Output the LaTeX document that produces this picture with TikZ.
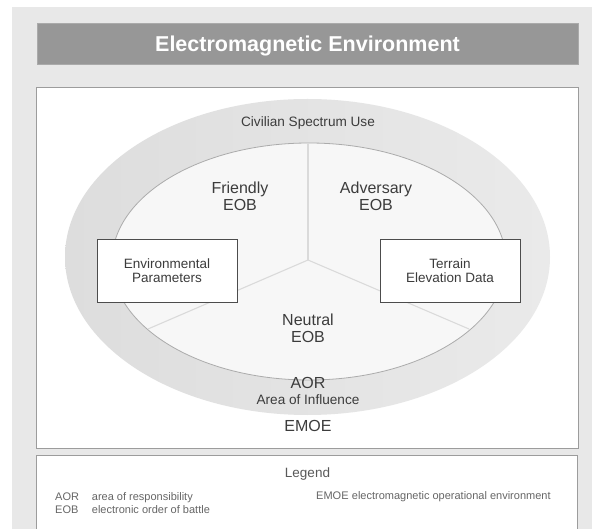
\documentclass[tikz,border=0pt]{standalone}
\usepackage{fontspec}
\setmainfont{Liberation Sans}
\definecolor{pagegray}{HTML}{E8E8E8}
\definecolor{barfill}{HTML}{979797}
\definecolor{barline}{HTML}{AAAAAA}
\definecolor{panelline}{HTML}{9C9C9C}
\definecolor{ringleft}{HTML}{DDDDDD}
\definecolor{ringright}{HTML}{EAEAEA}
\definecolor{corefill}{HTML}{F7F7F7}
\definecolor{coreline}{HTML}{ABABAB}
\definecolor{spokecol}{HTML}{DADADA}
\definecolor{labelcol}{HTML}{3C3C3C}
\definecolor{legendcol}{HTML}{666666}
\begin{document}
\begin{tikzpicture}[x=1pt,y=-1pt,
  panel/.style={draw=panelline,line width=0.9pt,fill=white},
  bigtext/.style={text=labelcol,font=\fontsize{16}{17}\selectfont,inner sep=0pt,align=center},
  midtext/.style={text=labelcol,font=\fontsize{13.6}{14}\selectfont,inner sep=0pt,align=center},
  databox/.style={draw=black!70,line width=0.8pt,fill=white,minimum width=140pt,minimum height=63pt,
    inner sep=0pt,align=center,text=labelcol,font=\fontsize{13.5}{14}\selectfont},
  legtext/.style={text=legendcol,font=\fontsize{11}{13}\selectfont,inner sep=0pt,anchor=base west},
  spoke/.style={draw=spokecol,line width=1.1pt}]
\useasboundingbox (0,0) rectangle (592,529);
\clip (0,0) rectangle (592,529);

% page background
\fill[pagegray] (12,7) rectangle (592,529);

% title bar
\node[draw=barline,fill=barfill,line width=0.6pt,minimum width=541pt,minimum height=41pt,inner sep=0pt,
  text=white,font=\fontsize{21.5}{24}\selectfont\bfseries,text height=15.4pt,text depth=0pt]
  (title) at (307.5,43.5) {Electromagnetic Environment};

% main panel and legend panel
\draw[panel] (36,87) rectangle (578,448);
\draw[panel] (36,455) rectangle (577,545);

% area of influence ring and area of responsibility
\shade[left color=ringleft,right color=ringright] (307.5,257) ellipse [x radius=242.5pt, y radius=158pt];
\filldraw[fill=corefill,draw=coreline,line width=0.8pt] (309,261.5) ellipse [x radius=197pt, y radius=118.5pt];

% sectors of the order of battle
\coordinate (hub) at (308,260);
\coordinate (topend) at (308,143);
\coordinate (leftend) at (148,329);
\coordinate (rightend) at (469,329);
\draw[spoke] (hub) -- (topend);
\draw[spoke] (hub) -- (leftend);
\draw[spoke] (hub) -- (rightend);

% labels
\node[midtext,anchor=base] (civil) at (308,126.8) {Civilian Spectrum Use};
\node[bigtext] (friendly) at (240,196) {Friendly\\EOB};
\node[bigtext] (adversary) at (376,196) {Adversary\\EOB};
\node[bigtext] (neutral) at (308,328.3) {Neutral\\EOB};
\node[bigtext,anchor=base] (aor) at (308,388.3) {AOR};
\node[midtext,anchor=base] (aoi) at (308,404.3) {Area of Influence};
\node[bigtext,anchor=base] (emoe) at (308,431.7) {EMOE};

% data boxes
\node[databox] (envpar) at (167,270.5) {Environmental\\Parameters};
\node[databox] (terrain) at (450,270.5) {Terrain\\Elevation Data};

% legend
\node[text=black!65,font=\fontsize{13.5}{14}\selectfont,inner sep=0pt,anchor=base] (legend) at (307.5,477.3) {Legend};
\node[legtext] (kaor) at (55,500) {AOR};
\node[legtext] (daor) at (91.7,500) {area of responsibility};
\node[legtext] (keob) at (55,513.3) {EOB};
\node[legtext] (deob) at (91.7,513.3) {electronic order of battle};
\node[legtext] (kemoe) at (316,499.5) {EMOE};
\node[legtext] (demoe) at (351.7,499.5) {electromagnetic operational environment};
\end{tikzpicture}
\end{document}
